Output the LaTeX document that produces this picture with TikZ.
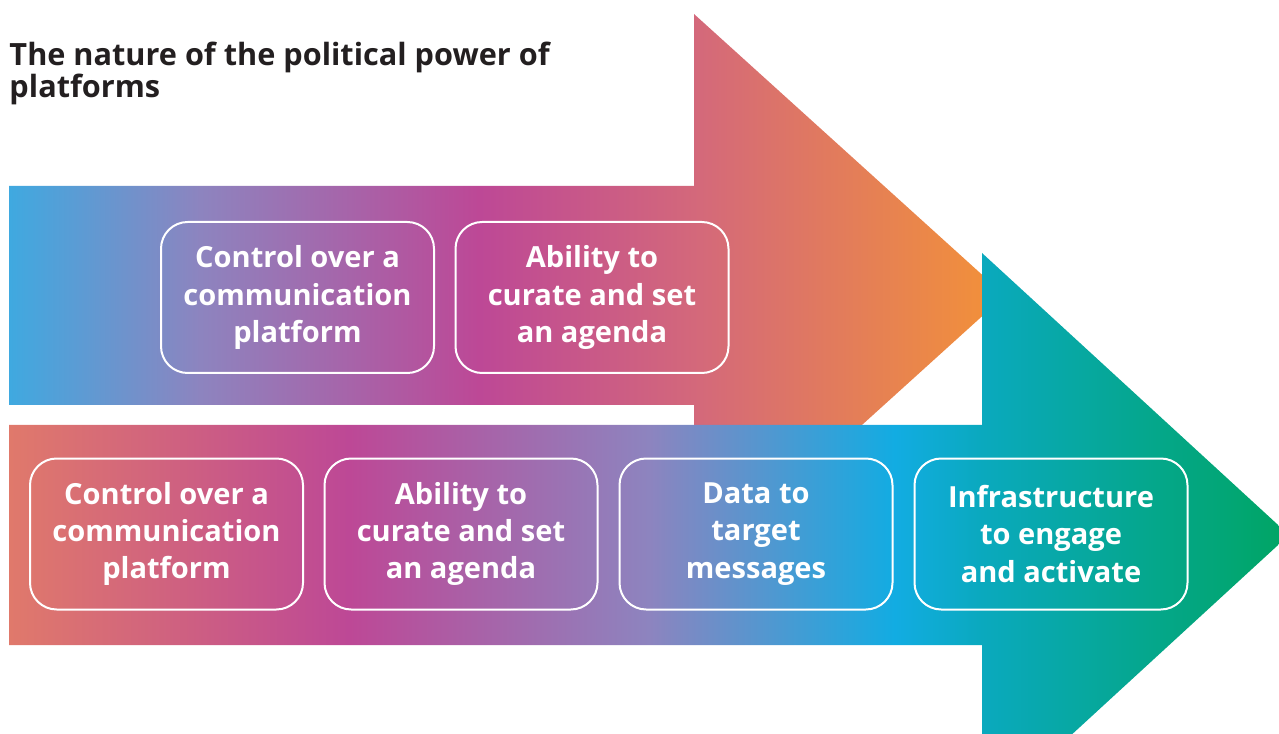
\documentclass[tikz,border=0pt]{standalone}
\usepackage{fontspec}
\setmainfont{Open Sans}

\definecolor{titlegray}{RGB}{35,31,32}
\definecolor{arrblue}{RGB}{63,169,224}
\definecolor{arrlav}{RGB}{141,132,191}
\definecolor{arrmag}{RGB}{189,72,150}
\definecolor{arrpink}{RGB}{212,105,122}
\definecolor{arrorange}{RGB}{243,146,55}
\definecolor{arrsalmon}{RGB}{224,121,107}
\definecolor{arrcyan}{RGB}{18,172,226}
\definecolor{arrteal}{RGB}{10,169,190}
\definecolor{arrgreen}{RGB}{0,165,99}

\pgfdeclarehorizontalshading{topgrad}{100bp}{color(0bp)=(arrblue); color(25bp)=(arrblue); color(34.6bp)=(arrlav); color(48.6bp)=(arrmag); color(59.7bp)=(arrpink); color(75bp)=(arrorange); color(100bp)=(arrorange)}
\pgfdeclarehorizontalshading{botgrad}{100bp}{color(0bp)=(arrsalmon); color(25bp)=(arrsalmon); color(38.3bp)=(arrmag); color(50bp)=(arrlav); color(59.6bp)=(arrcyan); color(63bp)=(arrteal); color(75bp)=(arrgreen); color(100bp)=(arrgreen)}

\tikzset{every picture/.style={line width=0.75pt}}
\tikzset{ideabox/.style={draw=white, line width=1.5pt, rounded corners=20pt, minimum width=204.75pt, minimum height=113.25pt, inner sep=0pt, text=white, align=center, font=\fontsize{21.8}{28}\selectfont\bfseries}}

\begin{document}
\begin{tikzpicture}[x=0.75pt,y=0.75pt,yscale=-1]
\useasboundingbox (0,0) rectangle (1279,734);
\clip (0,0) rectangle (1279,734);

%Shape: Right Arrow (upper)
\shade[shading=topgrad] (9,186) -- (694,186) -- (694,14) -- (1005,295.5) -- (694,577) -- (694,405) -- (9,405) -- cycle ;
%Shape: Right Arrow (lower)
\shade[shading=botgrad] (9,425) -- (982,425) -- (982,253) -- (1289,535) -- (982,817) -- (982,645) -- (9,645) -- cycle ;

% Text Node
\node [anchor=north west, inner sep=0.75pt, align=left, text=titlegray, font=\fontsize{23}{24}\selectfont\bfseries] (title) at (8,41) {The nature of the political power of\\platforms};

%Rounded Rect
\node [ideabox] (ctrltop) at (297.5,297.5) {Control over a\\communication\\platform};
%Rounded Rect
\node [ideabox] (curatetop) at (592,297.5) {Ability to\\curate and set\\an agenda};

%Rounded Rect
\node [ideabox] (ctrlbot) at (166.5,534) {Control over a\\communication\\platform};
%Rounded Rect
\node [ideabox] (curatebot) at (461,534) {Ability to\\curate and set\\an agenda};
%Rounded Rect
\node [ideabox] (databot) at (756,534) {Data to\\target\\messages};
%Rounded Rect
\node [ideabox] (infrabot) at (1051,534) {Infrastructure\\to engage\\and activate};
\end{tikzpicture}
\end{document}
